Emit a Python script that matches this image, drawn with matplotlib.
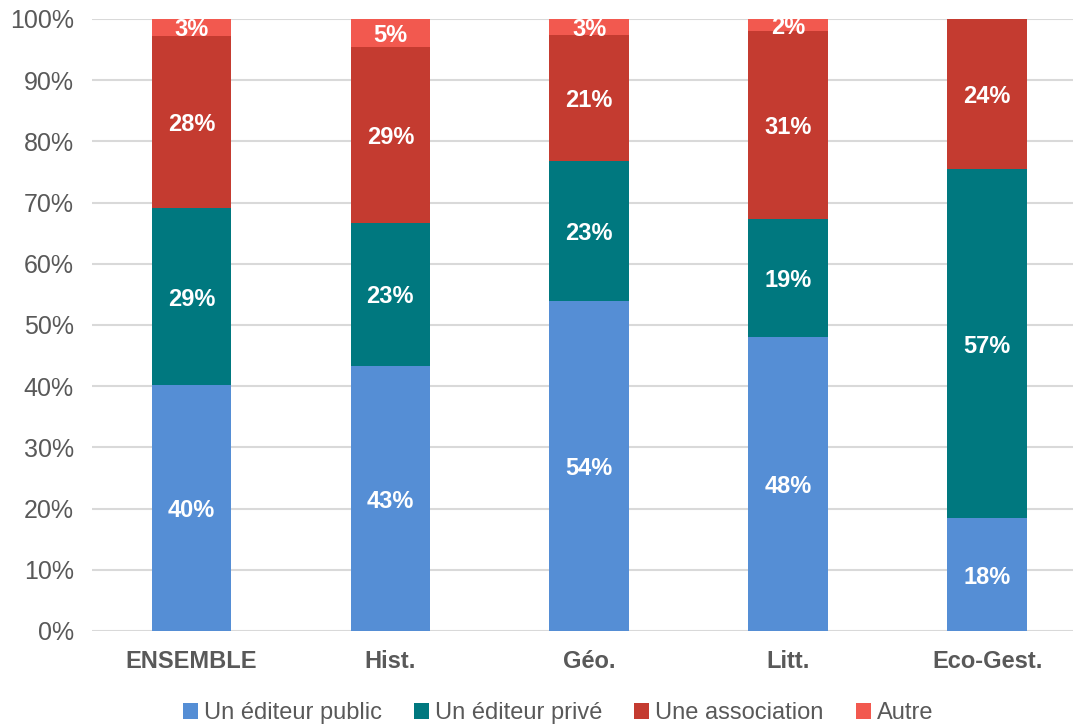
import numpy as np
import matplotlib.pyplot as plt

plt.rcParams['font.family'] = ['Liberation Sans', 'DejaVu Sans']

categories = ['ENSEMBLE', 'Hist.', 'Géo.', 'Litt.', 'Eco-Gest.']
series = ['Un éditeur public', 'Un éditeur privé', 'Une association', 'Autre']
public = [40.2, 43.3, 53.9, 48.1, 18.4]
prive = [28.9, 23.4, 22.9, 19.2, 57.1]
association = [28.2, 28.7, 20.6, 30.8, 24.5]
autre = [2.7, 4.6, 2.6, 1.9, 0.0]
colors = ['#558ED5', '#00787F', '#C43B30', '#F2594F']

fig = plt.figure(figsize=(10.73, 7.24), dpi=100)
ax = fig.add_axes([92 / 1073, 1 - 631 / 724, 1 - 92 / 1073, 612 / 724])

x = np.arange(len(categories))
bottom = np.zeros(len(categories))
for name, vals, col in zip(series, [public, prive, association, autre], colors):
    vals = np.array(vals)
    ax.bar(x, vals, 0.4, bottom=bottom, color=col, label=name, zorder=3)
    for xi, b, v in zip(x, bottom, vals):
        if v > 0:
            ax.text(xi, b + v / 2, f'{v:.0f}%', ha='center', va='center_baseline',
                    color='white', fontsize=17, fontweight='bold', zorder=4)
    bottom += vals

ax.set_ylim(0, 100)
ax.set_xlim(-0.5, 4.432)
ax.set_yticks(np.arange(0, 101, 10))
ax.set_yticklabels([f'{v}%' for v in range(0, 101, 10)])
ax.set_xticks(x)
ax.set_xticklabels(categories, fontweight='bold')
ax.tick_params(axis='y', length=0, labelsize=18, labelcolor='#595959', pad=13)
ax.tick_params(axis='x', length=0, labelsize=17, labelcolor='#595959', pad=14)
ax.grid(axis='y', color='#D9D9D9', linewidth=1.5, zorder=0)
for s in ax.spines.values():
    s.set_visible(False)

fig.legend(loc='lower center', bbox_to_anchor=(0.52, -0.03), ncol=4, frameon=False,
           fontsize=17, labelcolor='#595959', handlelength=0.65, handleheight=0.65,
           handletextpad=0.25, columnspacing=1.35)

fig.savefig('out.png', dpi=100)
